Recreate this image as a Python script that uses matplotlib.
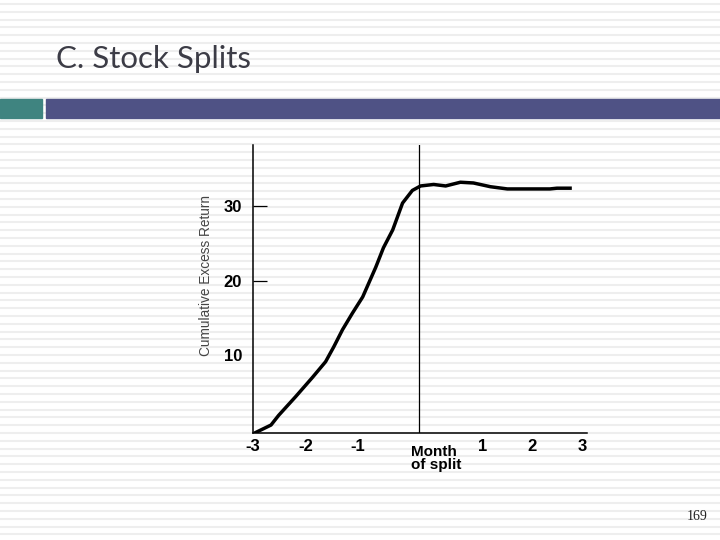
import matplotlib
matplotlib.use("Agg")
import matplotlib.pyplot as plt
from matplotlib.patches import Rectangle

# cumulative excess return around the split month
months = [-3.0, -2.72, -2.58, -2.27, -1.96, -1.72, -1.57, -1.41, -1.23, -1.04,
          -0.80, -0.66, -0.49, -0.31, -0.13, 0.02, 0.26, 0.48, 0.75, 0.99,
          1.30, 1.61, 2.03, 2.39, 2.52, 2.76]
cum_ret = [-0.4, 0.6, 1.9, 4.4, 7.0, 9.1, 11.1, 13.4, 15.6, 17.8,
           21.8, 24.4, 26.8, 30.4, 32.1, 32.7, 32.9, 32.7, 33.2, 33.1,
           32.6, 32.3, 32.3, 32.3, 32.4, 32.4]

xtick_pos = [-3.05, -2.08, -1.13, 1.15, 2.06, 2.98]
xtick_labels = ["-3", "-2", "-1", "1", "2", "3"]
ytick_pos = [10, 20, 30]
ytick_labels = ["10", "20", "30"]

fig = plt.figure(figsize=(7.2, 5.4), dpi=100)

# slide background with faint horizontal stripes
bg = fig.add_axes([0, 0, 1, 1])
bg.set_xlim(0, 720)
bg.set_ylim(540, 0)
bg.axis("off")
y = 4
while y < 540:
    bg.axhline(y, color="#eeeeee", lw=1.5, zorder=0)
    y += 7.8
bg.add_patch(Rectangle((0, 99), 42, 19, color="#3f8480", zorder=1))
bg.add_patch(Rectangle((46, 99), 674, 19, color="#4f5285", zorder=1))
bg.text(56, 59, "C. Stock Splits", fontsize=22.5, family="Lato", color="#3c3c46",
        va="center", ha="left")
bg.text(697, 517, "169", fontsize=10, family="Liberation Serif", color="#222222",
        va="center", ha="center")
bg.text(206, 275, "Cumulative Excess Return", fontsize=9.8, family="Liberation Sans",
        color="#444444", rotation=90, va="center", ha="center")

ax = fig.add_axes([253 / 720, 1 - 433 / 540, 334 / 720, 288 / 540])
ax.patch.set_alpha(0)
ax.plot(months, cum_ret, color="black", lw=2.5, solid_joinstyle="round")
ax.axvline(0, color="black", lw=0.9)
ax.set_xlim(-3.03, 3.07)
ax.set_ylim(-0.47, 38.2)
for side in ["top", "right"]:
    ax.spines[side].set_visible(False)
for side in ["left", "bottom"]:
    ax.spines[side].set_linewidth(1.1)

ax.set_xticks(xtick_pos)
ax.set_xticklabels(xtick_labels, fontsize=12, fontweight="bold", family="Liberation Sans")
ax.tick_params(axis="x", length=0, pad=4)
ax.set_yticks(ytick_pos)
ax.set_yticklabels(ytick_labels, fontsize=12, fontweight="bold", family="Liberation Sans")
ax.tick_params(axis="y", direction="in", length=10, width=0.9, pad=8)
ax.yaxis.get_major_ticks()[0].tick1line.set_visible(False)

ax.text(-0.16, -0.04, "Month\nof split", transform=ax.get_xaxis_transform(),
        fontsize=11, fontweight="bold", family="Liberation Sans",
        ha="left", va="top", linespacing=0.95)

fig.savefig("out.png", dpi=100)
